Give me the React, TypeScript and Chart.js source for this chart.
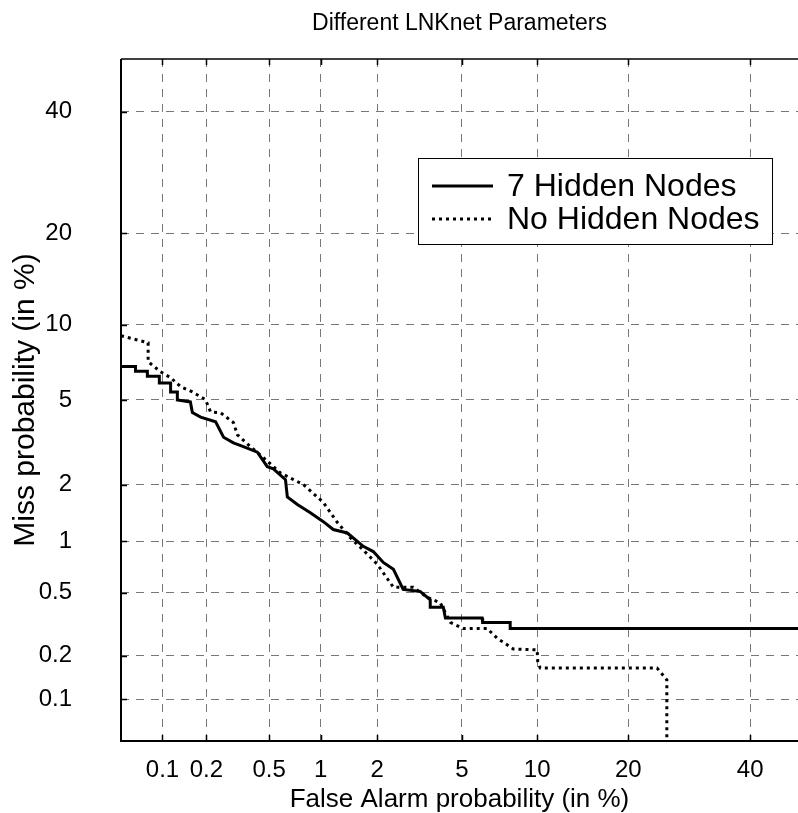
import React, { useEffect, useRef } from 'react';
import { Chart, registerables } from 'chart.js';

Chart.register(...registerables);

const TITLE = 'Different LNKnet Parameters';
const X_TITLE = 'False Alarm probability (in %)';
const Y_TITLE = 'Miss probability (in %)';
const SERIES_NAMES = ['7 Hidden Nodes', 'No Hidden Nodes'];

const TICK_VALUES = [0.1, 0.2, 0.5, 1, 2, 5, 10, 20, 40];
const TICK_LABELS = ['0.1', '0.2', '0.5', '1', '2', '5', '10', '20', '40'];

const AXIS_MIN = 0.05;
const X_AXIS_MAX = 49.1;
const Y_AXIS_MAX = 50;

// 7 Hidden Nodes (solid)
const HIDDEN7_FA = [0.05, 0.064, 0.064, 0.078, 0.078, 0.095, 0.095, 0.114, 0.114, 0.127, 0.127, 0.156, 0.161, 0.183, 0.23, 0.259, 0.3, 0.347, 0.424, 0.488, 0.531, 0.627, 0.643, 0.736, 0.874, 1.034, 1.173, 1.397, 1.696, 1.91, 2.146, 2.41, 2.69, 3.24, 3.61, 3.61, 4.14, 4.23, 6.09, 6.12, 7.9, 7.9, 50];
const HIDDEN7_MISS = [6.9, 6.9, 6.6, 6.6, 6.3, 6.3, 5.9, 5.9, 5.4, 5.4, 5.0, 4.9, 4.4, 4.2, 4.0, 3.4, 3.2, 3.07, 2.89, 2.46, 2.4, 2.12, 1.73, 1.58, 1.43, 1.28, 1.16, 1.11, 0.935, 0.874, 0.757, 0.69, 0.525, 0.51, 0.454, 0.408, 0.408, 0.35, 0.35, 0.328, 0.328, 0.3, 0.3];

// No Hidden Nodes (dotted)
const NOHIDDEN_FA = [0.05, 0.079, 0.079, 0.097, 0.114, 0.134, 0.161, 0.197, 0.213, 0.248, 0.3, 0.318, 0.384, 0.462, 0.585, 0.798, 1.034, 1.233, 1.45, 1.696, 2.0, 2.41, 3.01, 3.5, 4.01, 4.45, 5.06, 6.39, 7.01, 8.12, 10.0, 10.05, 10.26, 24.1, 25.6, 25.6];
const NOHIDDEN_MISS = [9.09, 8.55, 7.21, 6.56, 6.21, 5.69, 5.41, 5.02, 4.43, 4.39, 3.97, 3.49, 3.07, 2.72, 2.29, 2.0, 1.62, 1.27, 1.044, 0.891, 0.74, 0.54, 0.54, 0.47, 0.435, 0.328, 0.3, 0.3, 0.26, 0.221, 0.218, 0.179, 0.165, 0.165, 0.137, 0.01];

const FONT = "'Liberation Sans', Arial, Helvetica, sans-serif";

// inverse standard normal CDF (normal deviate scale of a DET plot)
function probit(p: number): number {
  const a = [-39.69683028665376, 220.9460984245205, -275.9285104469687, 138.357751867269, -30.66479806614716, 2.506628277459239];
  const b = [-54.47609879822406, 161.5858368580409, -155.6989798598866, 66.80131188771972, -13.28068155288572];
  const c = [-0.007784894002430293, -0.3223964580411365, -2.400758277161838, -2.549671348874755, 4.374664141464968, 2.938163982698783];
  const d = [0.007784695709041462, 0.3224671290700398, 2.445134137142996, 3.754408661907416];
  const pl = 0.02425;
  if (p < pl) {
    const q = Math.sqrt(-2 * Math.log(p));
    return (((((c[0] * q + c[1]) * q + c[2]) * q + c[3]) * q + c[4]) * q + c[5]) / ((((d[0] * q + d[1]) * q + d[2]) * q + d[3]) * q + 1);
  }
  if (p <= 1 - pl) {
    const q = p - 0.5;
    const r = q * q;
    return ((((((a[0] * r + a[1]) * r + a[2]) * r + a[3]) * r + a[4]) * r + a[5]) * q) / (((((b[0] * r + b[1]) * r + b[2]) * r + b[3]) * r + b[4]) * r + 1);
  }
  const q = Math.sqrt(-2 * Math.log(1 - p));
  return -(((((c[0] * q + c[1]) * q + c[2]) * q + c[3]) * q + c[4]) * q + c[5]) / ((((d[0] * q + d[1]) * q + d[2]) * q + d[3]) * q + 1);
}
const pz = (pct: number) => probit(pct / 100);

const toPoints = (fa: number[], miss: number[]) => fa.map((v, i) => ({ x: pz(v), y: pz(miss[i]) }));

const framePlugin = {
  id: 'detFrame',
  beforeDraw(chart: any) {
    const ctx = chart.ctx;
    ctx.save();
    ctx.fillStyle = '#ffffff';
    ctx.fillRect(0, 0, chart.width, chart.height);
    ctx.restore();
  },
  afterDraw(chart: any) {
    const { ctx, chartArea } = chart;
    const { left, top, right, bottom } = chartArea;
    const xs = chart.scales.x;
    const ys = chart.scales.y;
    ctx.save();
    ctx.strokeStyle = '#000';
    ctx.setLineDash([]);
    // frame
    ctx.lineWidth = 2;
    ctx.beginPath();
    ctx.moveTo(left, top);
    ctx.lineTo(left, bottom);
    ctx.lineTo(right + 2, bottom);
    ctx.stroke();
    ctx.lineWidth = 1.5;
    ctx.beginPath();
    ctx.moveTo(left, top);
    ctx.lineTo(right + 2, top);
    ctx.stroke();
    // inward tick marks
    ctx.lineWidth = 1.5;
    ctx.beginPath();
    TICK_VALUES.forEach((v) => {
      const px = Math.round(xs.getPixelForValue(pz(v))) + 0.5;
      ctx.moveTo(px, top);
      ctx.lineTo(px, top + 6);
      ctx.moveTo(px, bottom);
      ctx.lineTo(px, bottom - 6);
      const py = Math.round(ys.getPixelForValue(pz(v))) + 0.5;
      ctx.moveTo(left, py);
      ctx.lineTo(left + 6, py);
    });
    ctx.stroke();

    // legend box
    const bx = 418.5, by = 158.5, bw = 354, bh = 86;
    ctx.fillStyle = '#fff';
    ctx.fillRect(bx, by, bw, bh);
    ctx.lineWidth = 1;
    ctx.strokeRect(bx, by, bw, bh);
    const rows = [186, 219];
    const dashes = [[], [3, 4]];
    rows.forEach((ry, i) => {
      ctx.lineWidth = 3;
      ctx.lineCap = 'butt';
      ctx.setLineDash(dashes[i]);
      ctx.beginPath();
      ctx.moveTo(432, ry);
      ctx.lineTo(493, ry);
      ctx.stroke();
      ctx.setLineDash([]);
      ctx.fillStyle = '#000';
      ctx.font = `32px ${FONT}`;
      ctx.textAlign = 'left';
      ctx.textBaseline = 'middle';
      ctx.fillText(SERIES_NAMES[i], 507, ry + 1);
    });
    ctx.restore();
  },
};

export default function App() {
  const ref = useRef<HTMLCanvasElement | null>(null);

  useEffect(() => {
    if (!ref.current) return;
    Chart.defaults.font.family = FONT;
    const setTicks = (scale: any) => {
      scale.ticks = TICK_VALUES.map((v) => ({ value: pz(v) }));
    };
    const chart = new Chart(ref.current, {
      type: 'line',
      data: {
        datasets: [
          {
            label: SERIES_NAMES[0],
            data: toPoints(HIDDEN7_FA, HIDDEN7_MISS),
            borderColor: '#000',
            backgroundColor: '#000',
            borderWidth: 3,
            pointRadius: 0,
            tension: 0,
            fill: false,
            borderJoinStyle: 'miter',
            clip: 1,
          },
          {
            label: SERIES_NAMES[1],
            data: toPoints(NOHIDDEN_FA, NOHIDDEN_MISS),
            borderColor: '#000',
            backgroundColor: '#000',
            borderWidth: 3,
            borderDash: [3, 4],
            pointRadius: 0,
            tension: 0,
            fill: false,
            clip: 1,
          },
        ],
      },
      options: {
        responsive: false,
        animation: false,
        events: [],
        layout: { padding: 0 },
        plugins: {
          legend: { display: false },
          tooltip: { enabled: false },
          title: {
            display: true,
            text: TITLE,
            fullSize: false,
            color: '#000',
            font: { size: 23, weight: 'normal', family: FONT },
            padding: { top: 10, bottom: 21.4 },
          },
        },
        scales: {
          x: {
            type: 'linear',
            min: pz(AXIS_MIN),
            max: pz(X_AXIS_MAX),
            afterBuildTicks: setTicks,
            afterFit: (s: any) => {
              s.height = 72;
              s.paddingLeft = 0;
              s.paddingRight = 0;
            },
            grid: { color: '#777', lineWidth: 1, drawTicks: false },
            border: { display: false, dash: [8, 7] },
            ticks: {
              autoSkip: false,
              maxRotation: 0,
              padding: 15,
              color: '#000',
              font: { size: 24, family: FONT },
              callback: (_v: any, i: number) => TICK_LABELS[i],
            },
            title: {
              display: true,
              text: X_TITLE,
              color: '#000',
              font: { size: 26, family: FONT },
              padding: { top: 0, bottom: -2 },
            },
          },
          y: {
            type: 'linear',
            min: pz(AXIS_MIN),
            max: pz(Y_AXIS_MAX),
            afterBuildTicks: setTicks,
            afterFit: (s: any) => {
              s.width = 121;
              s.paddingTop = 0;
              s.paddingBottom = 0;
            },
            grid: { color: '#777', lineWidth: 1, drawTicks: false },
            border: { display: false, dash: [8, 7] },
            ticks: {
              autoSkip: false,
              padding: 49,
              color: '#000',
              font: { size: 24, family: FONT },
              callback: (_v: any, i: number) => TICK_LABELS[i],
            },
            title: {
              display: true,
              text: Y_TITLE,
              color: '#000',
              font: { size: 30, family: FONT },
              padding: { top: 8, bottom: 0 },
            },
          },
        },
      },
      plugins: [framePlugin],
    } as any);
    return () => chart.destroy();
  }, []);

  return (
    <div style={{ position: 'fixed', left: 0, top: 0, width: 798, height: 813, background: '#fff', overflow: 'hidden' }}>
      <canvas ref={ref} width={798} height={813} style={{ display: 'block' }} />
    </div>
  );
}
